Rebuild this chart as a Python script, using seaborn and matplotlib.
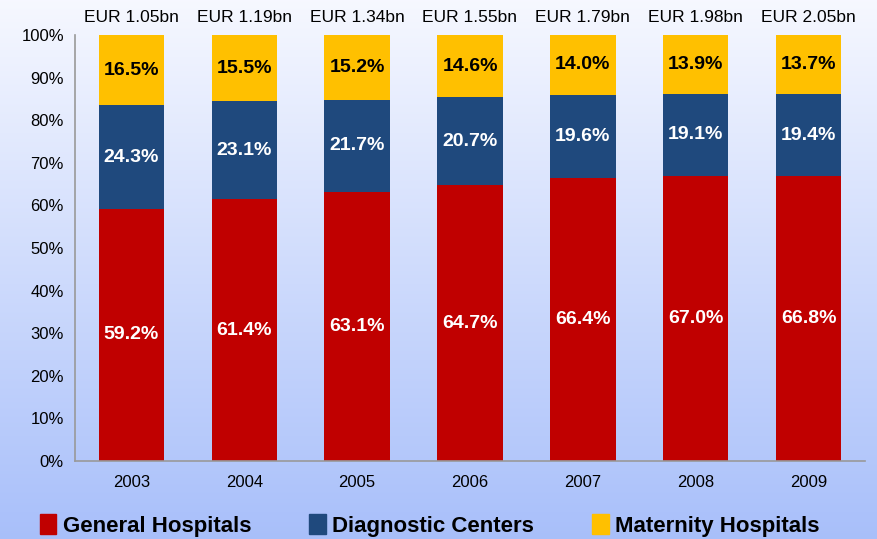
import numpy as np
import pandas as pd
import seaborn as sns
import matplotlib.pyplot as plt
from matplotlib.patches import Patch

years = ['2003', '2004', '2005', '2006', '2007', '2008', '2009']
general = [59.2, 61.4, 63.1, 64.7, 66.4, 67.0, 66.8]
diagnostic = [24.3, 23.1, 21.7, 20.7, 19.6, 19.1, 19.4]
maternity = [16.5, 15.5, 15.2, 14.6, 14.0, 13.9, 13.7]
totals = ['EUR 1.05bn', 'EUR 1.19bn', 'EUR 1.34bn', 'EUR 1.55bn',
          'EUR 1.79bn', 'EUR 1.98bn', 'EUR 2.05bn']

colors = {'General Hospitals': '#C00000',
          'Diagnostic Centers': '#1F497D',
          'Maternity Hospitals': '#FFC000'}

sns.set_style('white')
plt.rcParams['font.family'] = ['Liberation Sans', 'DejaVu Sans']

df = pd.DataFrame({'year': years, 'general': general,
                   'diagnostic': diagnostic, 'maternity': maternity})
df['base2'] = df['general'] + df['diagnostic']

fig = plt.figure(figsize=(8.77, 5.39), dpi=100)

# gradient background
bg = fig.add_axes([0, 0, 1, 1], zorder=0)
grad = np.linspace(0, 1, 256)[:, None]
top = np.array([0.965, 0.972, 1.0])
bot = np.array([0.66, 0.75, 0.98])
img = top[None, None, :] * (1 - grad[:, :, None]) + bot[None, None, :] * grad[:, :, None]
bg.imshow(img, aspect='auto', extent=[0, 1, 0, 1])
bg.axis('off')

ax = fig.add_axes([75 / 877, 78 / 539, 790 / 877, 426 / 539], zorder=1)
ax.patch.set_alpha(0)

w = 0.58
bar_kw = dict(width=w, saturation=1, linewidth=0, ax=ax)
sns.barplot(data=df, x='year', y='general', color=colors['General Hospitals'], **bar_kw)
sns.barplot(data=df, x='year', y='diagnostic', bottom=df['general'],
            color=colors['Diagnostic Centers'], **bar_kw)
sns.barplot(data=df, x='year', y='maternity', bottom=df['base2'],
            color=colors['Maternity Hospitals'], **bar_kw)

for i in range(len(years)):
    ax.text(i, general[i] / 2, f'{general[i]:.1f}%', ha='center', va='center',
            color='white', fontsize=14, fontweight='bold')
    ax.text(i, general[i] + diagnostic[i] / 2, f'{diagnostic[i]:.1f}%', ha='center',
            va='center', color='white', fontsize=14, fontweight='bold')
    ax.text(i, df['base2'][i] + maternity[i] / 2, f'{maternity[i]:.1f}%', ha='center',
            va='center', color='black', fontsize=14, fontweight='bold')
    ax.text(i, 104.2, totals[i], ha='center', va='center', fontsize=12.5, color='black')

ax.set_ylim(0, 100)
ax.set_xlim(-0.5, 6.5)
ax.set_yticks(range(0, 101, 10))
ax.set_yticklabels([f'{v}%' for v in range(0, 101, 10)], fontsize=12)
ax.set_xticks(range(len(years)))
ax.set_xticklabels(years, fontsize=12)
ax.set_xlabel('')
ax.set_ylabel('')
ax.tick_params(axis='both', length=0, pad=10, labelcolor='black')
ax.tick_params(axis='y', pad=8)
for s in ['top', 'right']:
    ax.spines[s].set_visible(False)
for s in ['left', 'bottom']:
    ax.spines[s].set_color('#999999')
    ax.spines[s].set_linewidth(1.2)

handles = [Patch(color=c, label=k) for k, c in colors.items()]
fig.legend(handles=handles, loc='center', bbox_to_anchor=(0.49, 0.025), ncol=3,
           frameon=False, handlelength=0.75, handleheight=1.0, handletextpad=0.3,
           columnspacing=2.6, labelcolor='black',
           prop={'weight': 'bold', 'size': 16})

fig.savefig('out.png', dpi=100)
